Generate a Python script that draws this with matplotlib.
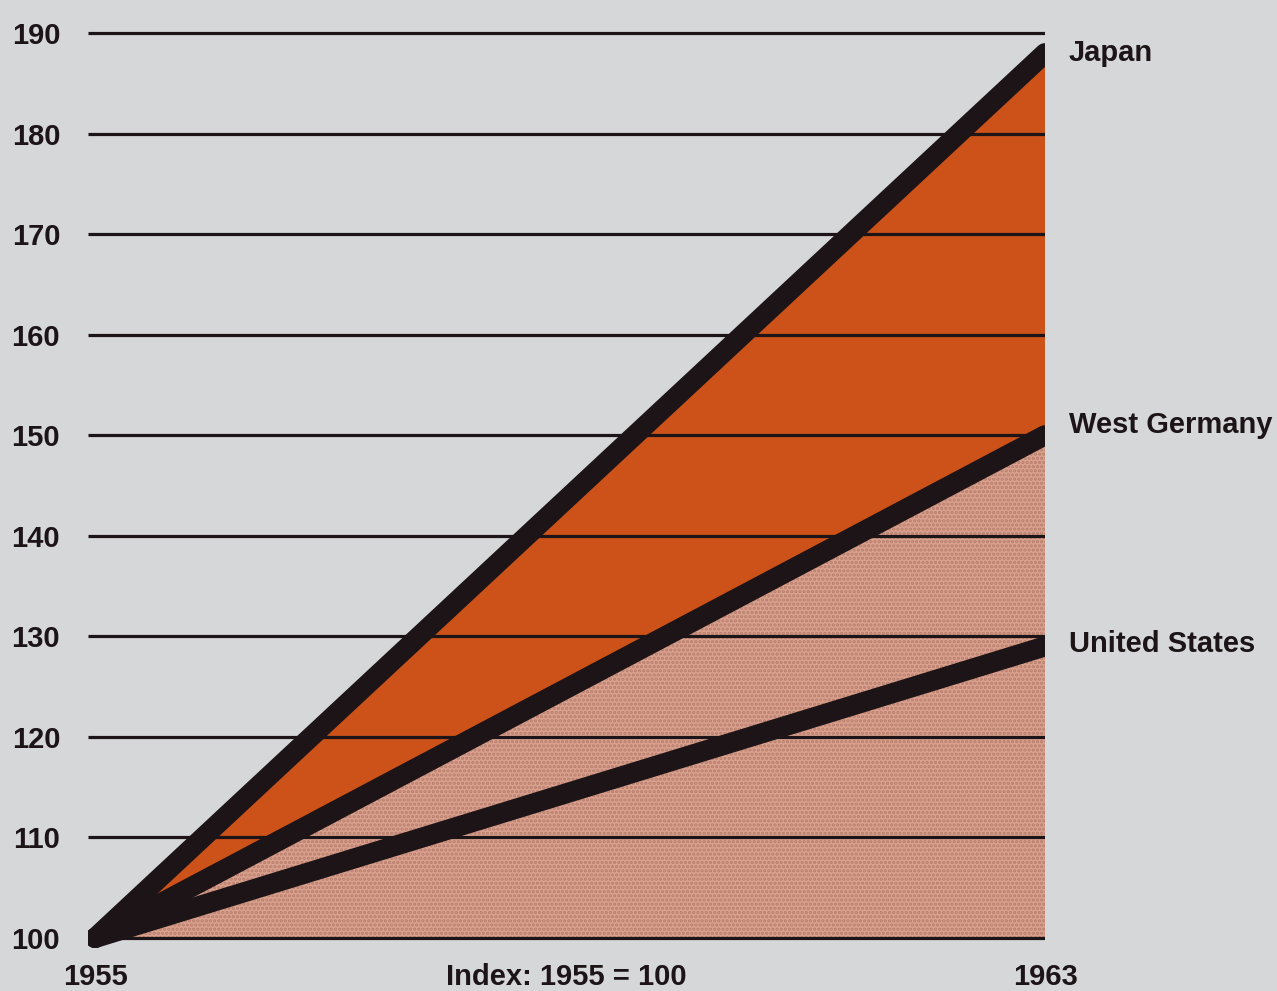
import matplotlib
matplotlib.use("Agg")
import matplotlib.pyplot as plt

# Industrial production index, 1955 = 100
years = [1955, 1963]
japan = [100, 188]
west_germany = [100, 150]
united_states = [100, 129]

series_names = ["Japan", "West Germany", "United States"]
y_ticks = [100, 110, 120, 130, 140, 150, 160, 170, 180, 190]
x_ticks = [1955, 1963]
subtitle = "Index: 1955 = 100"

bg = "#d6d7d9"
orange = "#cc5219"
pink = "#d9a18e"
ink = "#1c1416"

plt.rcParams["font.family"] = ["Liberation Sans", "DejaVu Sans"]
plt.rcParams["hatch.linewidth"] = 1.6

W, H = 1277, 991
fig = plt.figure(figsize=(W / 100, H / 100), dpi=100, facecolor=bg)
left, right, top, bottom = 88, 1045, 23, 948
ax = fig.add_axes([left / W, 1 - bottom / H, (right - left) / W, (bottom - top) / H])
ax.set_facecolor(bg)

ax.set_xlim(1954.94, 1963)
ax.set_ylim(99, 191)

# Shaded bands: orange between Japan and West Germany, stippled pink below West Germany
ax.fill_between(years, west_germany, japan, facecolor=orange, linewidth=0, zorder=1)
ax.fill_between(years, [y_ticks[0]] * 2, west_germany, facecolor=pink,
                edgecolor="#b97e6d", hatch="....", linewidth=0, zorder=1)

# Horizontal rules at each index level
ax.hlines(y_ticks, 1954.94, 1963, colors=ink, linewidth=2.3, zorder=2)

# Heavy growth lines
for vals in (japan, west_germany, united_states):
    ax.plot(years, vals, color=ink, linewidth=14.5, solid_capstyle="round",
            zorder=3)

for sp in ax.spines.values():
    sp.set_visible(False)

ax.set_yticks(y_ticks)
ax.set_yticklabels([str(v) for v in y_ticks])
ax.set_xticks(x_ticks)
ax.set_xticklabels([str(v) for v in x_ticks])
ax.tick_params(axis="y", length=0, pad=20, labelsize=21, labelcolor=ink)
ax.tick_params(axis="x", length=0, pad=11, labelsize=21, labelcolor=ink)
for lab in ax.get_yticklabels() + ax.get_xticklabels():
    lab.set_fontweight("bold")

ax.annotate(subtitle, xy=(0.5, 0), xycoords="axes fraction",
            xytext=(0, -21), textcoords="offset points",
            ha="center", va="center", fontsize=21, fontweight="bold", color=ink)

# Series labels at the right end of each line
label_y = {"Japan": japan[-1], "West Germany": west_germany[-1] + 1.0,
           "United States": united_states[-1] + 0.2}
for name in series_names:
    ax.annotate(name, xy=(1963, label_y[name]), xycoords="data",
                xytext=(17, 0), textcoords="offset points",
                ha="left", va="center", fontsize=21, fontweight="bold",
                color=ink, annotation_clip=False)

fig.savefig("out.png", dpi=100, facecolor=bg)
